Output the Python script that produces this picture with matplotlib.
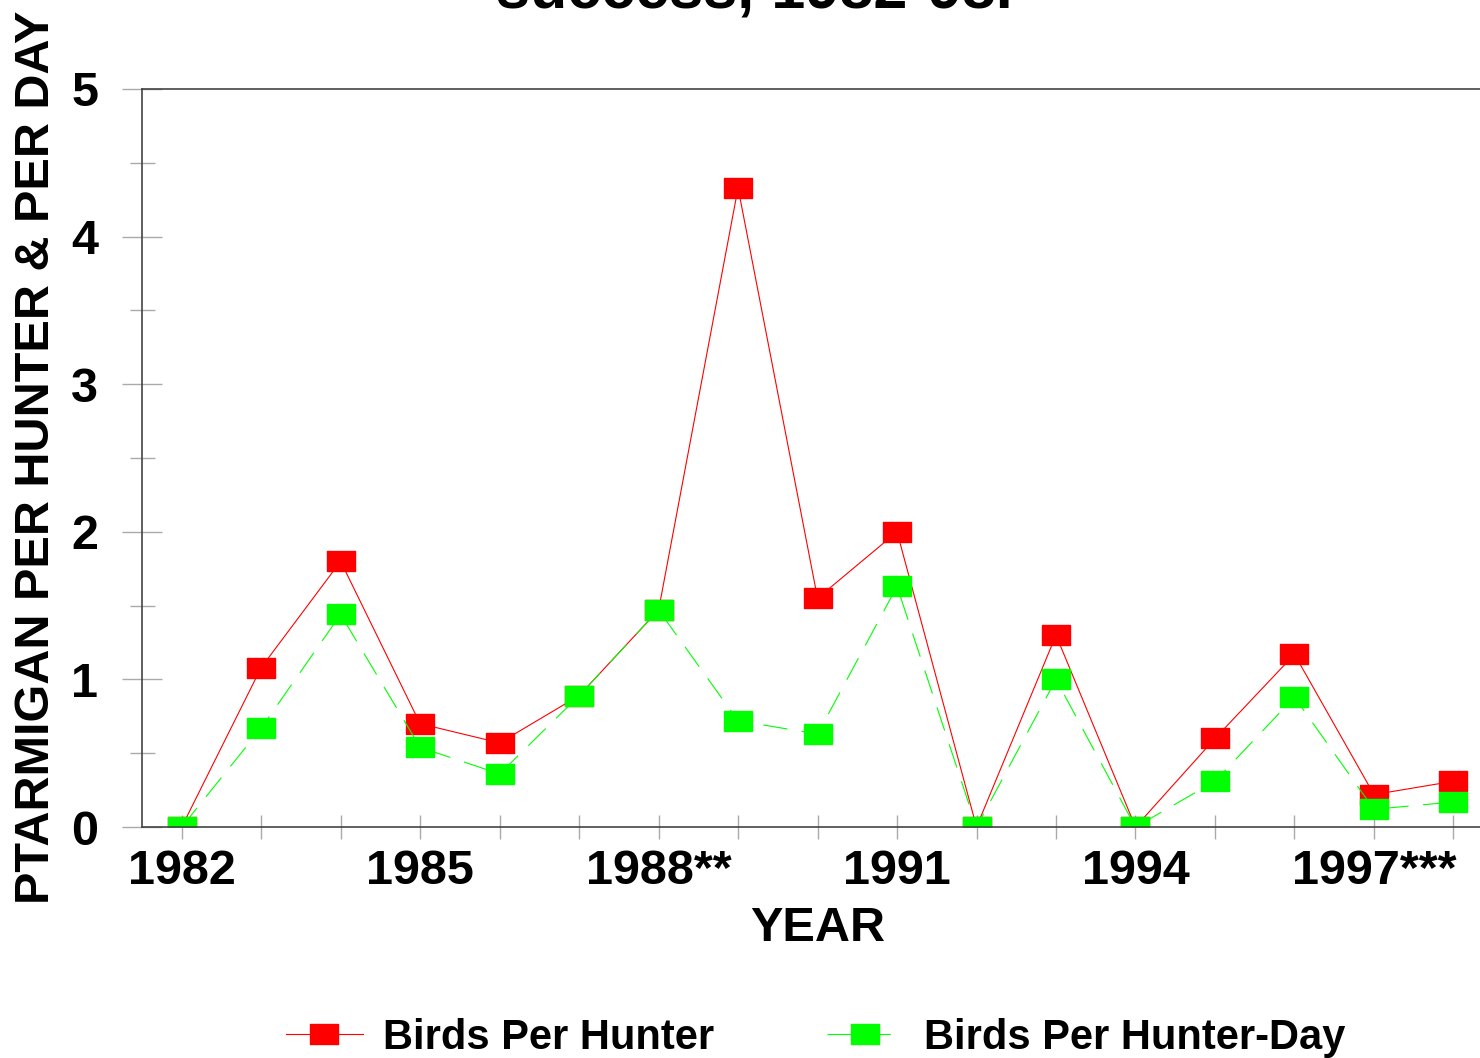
import numpy as np
import matplotlib.pyplot as plt
from matplotlib.path import Path

plt.rcParams['font.family'] = ['Liberation Sans', 'DejaVu Sans']
plt.rcParams['font.weight'] = 'bold'

# Data
years = [1982, 1983, 1984, 1985, 1986, 1987, 1988, 1989, 1990,
         1991, 1992, 1993, 1994, 1995, 1996, 1997, 1998]
per_hunter = [0, 1.08, 1.80, 0.70, 0.57, 0.89, 1.47, 4.33, 1.55,
              2.00, 0, 1.30, 0, 0.60, 1.17, 0.22, 0.31]
per_hunter_day = [0, 0.67, 1.44, 0.54, 0.36, 0.89, 1.47, 0.72, 0.63,
                  1.63, 0, 1.00, 0, 0.31, 0.88, 0.12, 0.17]
tick_years = [1982, 1985, 1988, 1991, 1994, 1997]
tick_labels = ['1982', '1985', '1988**', '1991', '1994', '1997***']

# wide flat square marker
rect = Path([(-0.5, -0.37), (0.5, -0.37), (0.5, 0.37), (-0.5, 0.37), (-0.5, -0.37)],
            [Path.MOVETO, Path.LINETO, Path.LINETO, Path.LINETO, Path.CLOSEPOLY])

fig = plt.figure(figsize=(14.8, 10.58), dpi=100)
ax = fig.add_axes([0.0959, 0.2183, 0.913, 0.6976])

ax.plot(years, per_hunter, color='#ff0000', lw=0.8, marker=rect, ms=20,
        mec='#ff0000', mfc='#ff0000', label='Birds Per Hunter')
ax.plot(years, per_hunter_day, color='#00ff00', lw=0.8, ls=(0, (22, 13)), marker=rect,
        ms=20, mec='#00ff00', mfc='#00ff00', label='Birds Per Hunter-Day')

ax.set_xlim(1981.5, 1998.5)
ax.set_ylim(0, 5)
ax.set_xticks(years)
ax.set_xticklabels(['' if y not in tick_years else tick_labels[tick_years.index(y)] for y in years])
ax.set_yticks([0, 1, 2, 3, 4, 5])
ax.set_yticks(np.arange(0.5, 5, 1), minor=True)

ax.tick_params(axis='x', direction='inout', length=17, width=1, color='#aaaaaa',
               labelsize=35, pad=7)
ax.tick_params(axis='y', which='major', direction='inout', length=29, width=1,
               color='#aaaaaa', labelsize=35, pad=17)
ax.tick_params(axis='y', which='minor', direction='inout', length=18, width=1,
               color='#aaaaaa')
for s in ax.spines.values():
    s.set_color('#444444')
    s.set_linewidth(1.2)

ax.set_xlabel('YEAR', fontsize=35, fontweight='bold', labelpad=9)
fig.text(0.025, 0.568, 'PTARMIGAN PER HUNTER & PER DAY', rotation=90, fontsize=35,
         fontweight='bold', ha='center', va='center')

fig.text(0.51, 0.9924, 'success, 1982-98.', fontsize=44, fontweight='bold',
         ha='center', va='baseline')

fig.legend(loc='center', bbox_to_anchor=(0.551, 0.019), ncol=2, frameon=False,
           fontsize=30, handlelength=1.85, columnspacing=2.7, handletextpad=0.48)

fig.savefig('out.png', dpi=100)
